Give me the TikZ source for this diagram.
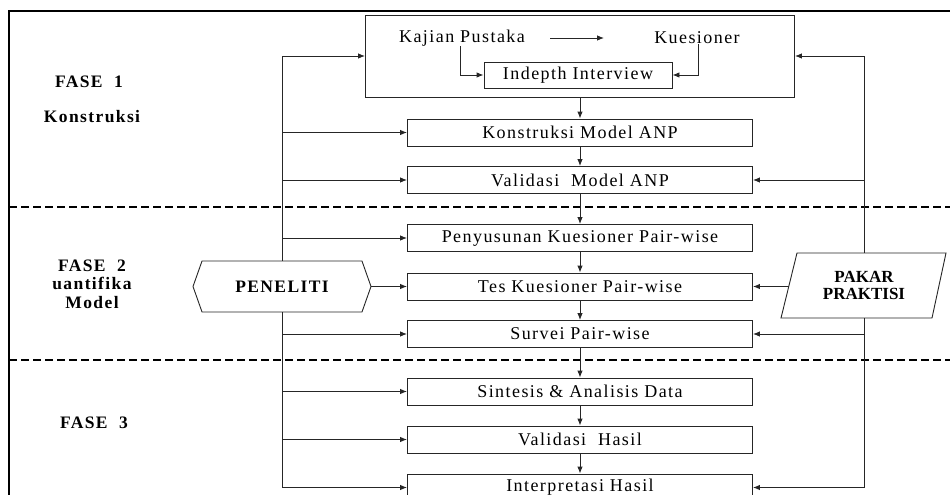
\documentclass[tikz,border=0pt]{standalone}
\usepackage{fontspec}
\setmainfont{Liberation Serif}[LetterSpace=8]
\usetikzlibrary{arrows.meta,shapes.symbols}
\begin{document}
\begin{tikzpicture}[x=1pt,y=-1pt,
  line/.style={draw=black!85,line width=0.9pt},
  arr/.style={line,-{Latex[length=7pt,width=5.5pt]}},
  box/.style={line,minimum width=345,minimum height=27,inner sep=0,font=\fontsize{18}{20}\selectfont},
  txt/.style={inner sep=0,font=\fontsize{18}{20}\selectfont},
  phase/.style={inner sep=0,font=\bfseries\fontsize{17.5}{18.5}\selectfont,align=center},
  frame/.style={draw=black,line width=2.2pt},
  sep/.style={draw=black,line width=2pt,dash pattern=on 8pt off 4pt}]
\useasboundingbox (0,0) rectangle (950,495);
\clip (0,0) rectangle (950,495);
% frame and phase separators
\draw[frame] (950,11) -- (9,11) -- (9,500);
\draw[sep] (9,207) -- (950,207);
\draw[sep] (9,360) -- (950,360);
% phase labels
\node[phase] (f1) at (89,82) {FASE\ \ 1};
\node[phase] (f1b) at (92,117) {Konstruksi};
\node[phase] (f2) at (92,284) {FASE\ \ 2\\uantifika\\Model};
\node[phase] (f3) at (94,423) {FASE\ \ 3};
% top box
\node[line,minimum width=429,minimum height=82,inner sep=0] (top) at (580,56) {};
\node[txt] (kp) at (462,38) {Kajian Pustaka};
\node[txt] (ku) at (697,38) {Kuesioner};
\node[box,minimum width=188,minimum height=26] (ii) at (578,75) {Indepth Interview};
\draw[arr] ([xshift=25]kp.east) -- ([xshift=-50]ku.west);
\draw[arr] ([xshift=-2]kp.south) |- (ii.west);
\draw[arr] ([xshift=1]ku.south) |- (ii.east);
% main boxes
\node[box] (k1) at (580,132.5) {Konstruksi Model ANP};
\node[box] (v1) at (580,180) {Validasi\ \ Model ANP};
\node[box] (pk) at (580,238) {Penyusunan Kuesioner Pair-wise};
\node[box] (tk) at (580,286.5) {Tes Kuesioner Pair-wise};
\node[box] (sv) at (580,334) {Survei Pair-wise};
\node[box] (sa) at (580,391.5) {Sintesis \& Analisis Data};
\node[box] (vh) at (580,439.5) {Validasi\ \ Hasil};
\node[box] (ih) at (580,487.5) {Interpretasi Hasil};
\draw[arr] (top) -- (k1);
\draw[arr] (k1) -- (v1);
\draw[arr] (v1) -- (pk);
\draw[arr] (pk) -- (tk);
\draw[arr] (tk) -- (sv);
\draw[arr] (sv) -- (sa);
\draw[arr] (sa) -- (vh);
\draw[arr] (vh) -- (ih);
% PENELITI
\node[line,fill=white,shape=signal,signal to=west and east,signal pointer angle=141,
  minimum width=178,minimum height=51,inner sep=0,font=\bfseries\fontsize{17.5}{19}\selectfont] (pen) at (282,286.5) {PENELITI};
\draw[arr] (pen.north) |- (top.west);
\draw[arr] (pen.north) |- (k1.west);
\draw[arr] (pen.north) |- (v1.west);
\draw[arr] (pen.north) |- (pk.west);
\draw[arr] (pen.east) -- (tk.west);
\draw[arr] (pen.south) |- (sv.west);
\draw[arr] (pen.south) |- (sa.west);
\draw[arr] (pen.south) |- (vh.west);
\draw[arr] (pen.south) |- (ih.west);
% PAKAR PRAKTISI
\draw[line,fill=white] (781,318) -- (797,253) -- (946,253) -- (932,318) -- cycle;
\node[inner sep=0,minimum width=150,minimum height=65,align=center,
  font=\bfseries\fontsize{17}{17}\selectfont\addfontfeatures{LetterSpace=0}] (pak) at (864,285.5) {PAKAR\\PRAKTISI};
\draw[arr] (pak.north) |- (top.east);
\draw[arr] (pak.north) |- (v1.east);
\draw[arr] (pak.west |- tk.east) -- (tk.east);
\draw[arr] (pak.south) |- (sv.east);
\draw[arr] (pak.south) |- (ih.east);
\end{tikzpicture}
\end{document}
